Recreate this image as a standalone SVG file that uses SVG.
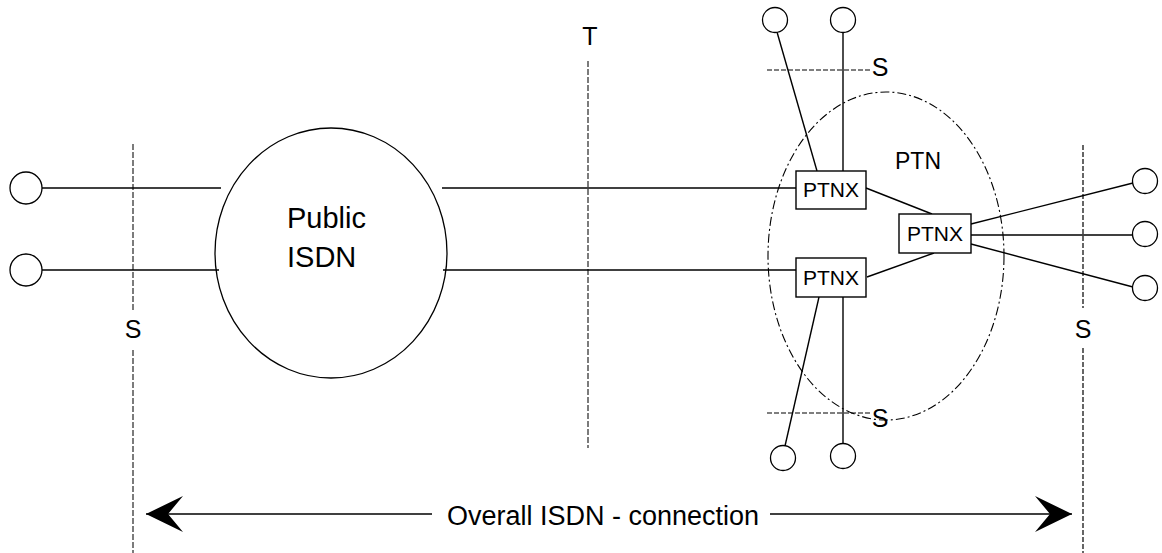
<svg xmlns="http://www.w3.org/2000/svg" width="1162" height="553" viewBox="0 0 1162 553">
<style>
  .ln{stroke:#000;stroke-width:1.4;fill:none}
  .term{stroke:#000;stroke-width:1.3;fill:#fff}
  .box{stroke:#000;stroke-width:1.4;fill:#fff}
  .ref{stroke:#444;stroke-width:1.4;stroke-dasharray:6,2;fill:none}
  .refd{stroke:#000;stroke-width:1.2;stroke-dasharray:5,2;fill:none}
  .dd{stroke:#000;stroke-width:1.1;stroke-dasharray:9,3,2,3;fill:none}
  text{font-family:"Liberation Sans",Arial,sans-serif;fill:#000}
  .lbl{font-size:25px}
  .big{font-size:29px}
  .bx{font-size:21px}
</style>
<defs>
  <marker id="ah" markerUnits="userSpaceOnUse" viewBox="-40 -20 42 40" markerWidth="42" markerHeight="40" refX="0" refY="0" orient="auto">
    <path d="M0,0 L-37,-18 L-22,0 L-37,18 Z" fill="#000"/>
  </marker>
</defs>

<g id="reference-points">
  <line class="ref" x1="133" y1="144" x2="133" y2="310"/>
  <line class="ref" x1="133" y1="350" x2="133" y2="553"/>
  <text class="lbl" x="133" y="338" text-anchor="middle">S</text>
  <line class="ref" x1="588" y1="61" x2="588" y2="448"/>
  <text class="lbl" x="590" y="45" text-anchor="middle">T</text>
  <line class="refd" x1="1083" y1="145" x2="1083" y2="308"/>
  <line class="refd" x1="1083" y1="348" x2="1083" y2="553"/>
  <text class="lbl" x="1083" y="338" text-anchor="middle">S</text>
  <line class="refd" x1="767" y1="70" x2="872" y2="70"/>
  <text class="lbl" x="880" y="76" text-anchor="middle">S</text>
  <line class="refd" x1="767" y1="413" x2="871" y2="413"/>
  <text class="lbl" x="880" y="427" text-anchor="middle">S</text>
</g>

<g id="connectors">
  <line class="ln" x1="42" y1="188" x2="221" y2="188"/>
  <line class="ln" x1="42" y1="270" x2="219" y2="270"/>
  <line class="ln" x1="442" y1="188" x2="796" y2="188"/>
  <line class="ln" x1="443" y1="270" x2="796" y2="270"/>
  <line class="ln" x1="777" y1="32" x2="817" y2="171"/>
  <line class="ln" x1="843" y1="32" x2="843" y2="171"/>
  <line class="ln" x1="866" y1="188" x2="932" y2="214"/>
  <line class="ln" x1="867" y1="277" x2="934" y2="253"/>
  <line class="ln" x1="819" y1="297" x2="785" y2="446"/>
  <line class="ln" x1="843" y1="297" x2="843" y2="444"/>
  <line class="ln" x1="971" y1="224" x2="1133" y2="183"/>
  <line class="ln" x1="971" y1="235" x2="1133" y2="235"/>
  <line class="ln" x1="971" y1="244" x2="1133" y2="287"/>
  <line class="ln" x1="432" y1="514" x2="146" y2="514" marker-end="url(#ah)"/>
  <line class="ln" x1="770" y1="514" x2="1072" y2="514" marker-end="url(#ah)"/>
  <text x="447" y="525" style="font-size:27px">Overall ISDN - connection</text>
</g>

<g id="public-isdn">
  <ellipse class="ln" cx="331" cy="253" rx="116" ry="125" style="stroke-width:1.3"/>
  <text class="big" x="287" y="228">Public</text>
  <text class="big" x="287" y="267">ISDN</text>
</g>

<g id="ptn">
  <ellipse class="dd" cx="886" cy="256" rx="118" ry="164"/>
  <text class="lbl" x="895" y="169" style="font-size:23px">PTN</text>
</g>

<g id="ptnx-1">
  <rect class="box" x="796" y="171" width="70" height="38"/>
  <text class="bx" x="831" y="197" text-anchor="middle">PTNX</text>
</g>
<g id="ptnx-2">
  <rect class="box" x="796" y="258" width="70" height="39"/>
  <text class="bx" x="831" y="285" text-anchor="middle">PTNX</text>
</g>
<g id="ptnx-3">
  <rect class="box" x="899" y="214" width="72" height="39"/>
  <text class="bx" x="935" y="241" text-anchor="middle">PTNX</text>
</g>

<g id="term-l1"><circle class="term" cx="26" cy="188" r="16"/></g>
<g id="term-l2"><circle class="term" cx="26" cy="270" r="16"/></g>
<g id="term-t1"><circle class="term" cx="775" cy="20" r="12.5"/></g>
<g id="term-t2"><circle class="term" cx="843" cy="20" r="12.5"/></g>
<g id="term-b1"><circle class="term" cx="783" cy="458" r="12.5"/></g>
<g id="term-b2"><circle class="term" cx="843" cy="456" r="12.5"/></g>
<g id="term-r1"><circle class="term" cx="1145" cy="181" r="12.5"/></g>
<g id="term-r2"><circle class="term" cx="1145" cy="234" r="12.5"/></g>
<g id="term-r3"><circle class="term" cx="1145" cy="288" r="12.5"/></g>
</svg>
